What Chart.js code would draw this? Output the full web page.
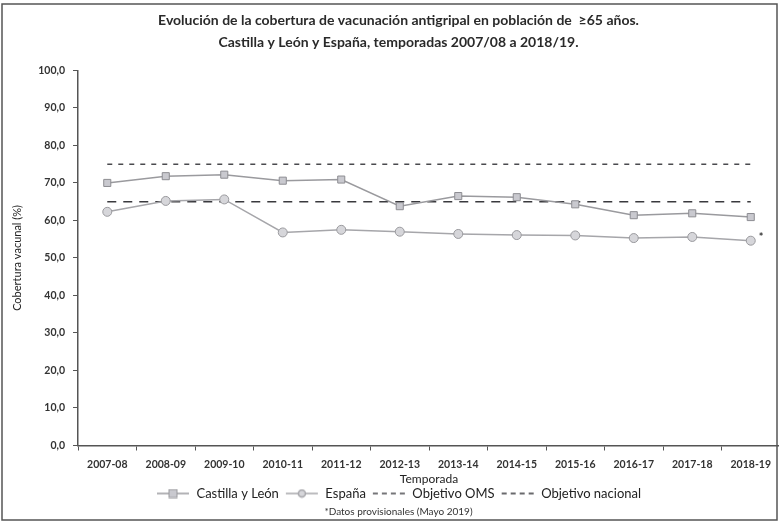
<!DOCTYPE html>
<html>
<head>
<meta charset="utf-8">
<script src="https://cdn.jsdelivr.net/npm/chart.js@4"></script>
<style>
    html, body { margin: 0; padding: 0; background: #fff; overflow: hidden; }
    #wrap { width: 786px; height: 523px; position: relative; }
</style>
</head>
<body>
<div id="wrap"><canvas id="coberturaChart"></canvas></div>
<script>
// Temporadas y coberturas (%)
const temporadas = ['2007-08', '2008-09', '2009-10', '2010-11', '2011-12', '2012-13',
    '2013-14', '2014-15', '2015-16', '2016-17', '2017-18', '2018-19'];
const castillaLeon = [70.0, 71.8, 72.2, 70.6, 70.9, 63.8, 66.5, 66.2, 64.3, 61.4, 61.9, 60.9];
const espana = [62.3, 65.2, 65.6, 56.8, 57.5, 57.0, 56.4, 56.1, 56.0, 55.3, 55.6, 54.6];
const objetivoOMS = temporadas.map(() => 75);
const objetivoNacional = temporadas.map(() => 65);

const FONT = 'Lato, "Open Sans", sans-serif';

// small legend icons: line with the series marker on top
function legendIcon(color, dash, marker, fill) {
    const c = document.createElement('canvas');
    c.width = 34; c.height = 10;
    const g = c.getContext('2d');
    g.strokeStyle = color;
    g.lineWidth = 1.5;
    g.setLineDash(dash);
    g.beginPath(); g.moveTo(1, 5); g.lineTo(33, 5); g.stroke();
    g.setLineDash([]);
    if (marker === 'rect') {
        g.fillStyle = fill; g.fillRect(13, 1, 8, 8);
        g.lineWidth = 1; g.strokeRect(13, 1, 8, 8);
    } else if (marker === 'circle') {
        g.fillStyle = fill; g.beginPath(); g.arc(17, 5, 3.5, 0, Math.PI * 2); g.fill(); g.stroke();
    }
    return c;
}

// "*" next to the provisional value and the outer frame
const extras = {
    id: 'extras',
    afterDatasetsDraw(chart) {
        const ctx = chart.ctx;
        const meta = chart.getDatasetMeta(1);
        const last = meta.data[meta.data.length - 1];
        ctx.save();
        ctx.fillStyle = '#333';
        ctx.font = 'bold 11px ' + FONT;
        ctx.textAlign = 'left';
        ctx.textBaseline = 'middle';
        ctx.fillText('*', last.x + 8, last.y - 3);
        ctx.restore();
    },
    afterDraw(chart) {
        const ctx = chart.ctx;
        ctx.save();
        ctx.strokeStyle = '#555';
        ctx.lineWidth = 1.5;
        ctx.strokeRect(2, 4, 775, 516);
        ctx.restore();
    }
};

const ctx = document.getElementById('coberturaChart');

new Chart(ctx, {
    type: 'line',
    data: {
        labels: temporadas,
        datasets: [
            {
                label: 'Castilla y León',
                data: castillaLeon,
                borderColor: '#9a9a9e',
                borderWidth: 1.5,
                pointStyle: 'rect',
                pointRadius: 5,
                pointBackgroundColor: '#c9c9cf',
                pointBorderColor: '#8d8d92',
                pointBorderWidth: 1,
                tension: 0,
                legendIcon: legendIcon('#9a9a9e', [], 'rect', '#c9c9cf')
            },
            {
                label: 'España',
                data: espana,
                borderColor: '#a6a6aa',
                borderWidth: 1.5,
                pointStyle: 'circle',
                pointRadius: 4.5,
                pointBackgroundColor: '#d6d6da',
                pointBorderColor: '#9a9a9e',
                pointBorderWidth: 1,
                tension: 0,
                legendIcon: legendIcon('#a6a6aa', [], 'circle', '#d6d6da')
            },
            {
                label: 'Objetivo OMS',
                data: objetivoOMS,
                borderColor: '#4a4a4e',
                borderWidth: 1.5,
                borderDash: [5, 6],
                pointRadius: 0,
                legendIcon: legendIcon('#4a4a4e', [5, 4], null)
            },
            {
                label: 'Objetivo nacional',
                data: objetivoNacional,
                borderColor: '#3a3a3e',
                borderWidth: 1.5,
                borderDash: [9, 7],
                pointRadius: 0,
                legendIcon: legendIcon('#3a3a3e', [5, 4], null)
            }
        ]
    },
    options: {
        responsive: true,
        maintainAspectRatio: false,
        animation: false,
        layout: { padding: { left: 11, right: 0, top: 6, bottom: 6 } },
        plugins: {
            title: {
                display: true,
                text: ['Evolución de la cobertura de vacunación antigripal en población de  ≥65 años.',
                       'Castilla y León y España, temporadas 2007/08 a 2018/19.'],
                color: '#2a2a2a',
                font: { family: FONT, size: 14, weight: 'bold', lineHeight: 1.55 },
                padding: { top: 4, bottom: 17 }
            },
            subtitle: {
                display: true,
                position: 'bottom',
                text: '*Datos provisionales (Mayo 2019)',
                color: '#333',
                font: { family: FONT, size: 10, lineHeight: 1.1 },
                padding: { top: -4, bottom: 0 }
            },
            legend: {
                position: 'bottom',
                labels: {
                    color: '#222',
                    font: { family: FONT, size: 13, lineHeight: 1.0 },
                    usePointStyle: true,
                    pointStyleWidth: 34,
                    padding: 6,
                    generateLabels(chart) {
                        return chart.data.datasets.map((ds, i) => ({
                            text: ds.label,
                            pointStyle: ds.legendIcon,
                            fontColor: '#222',
                            datasetIndex: i,
                            hidden: false,
                            lineWidth: 0
                        }));
                    }
                }
            },
            tooltip: { enabled: false }
        },
        scales: {
            y: {
                min: 0,
                max: 100,
                ticks: {
                    stepSize: 10,
                    color: '#333',
                    font: { family: FONT, size: 10.5, weight: 'bold' },
                    padding: 8,
                    callback: function(value) { return value.toFixed(1).replace('.', ','); }
                },
                grid: { drawOnChartArea: false, drawTicks: true, tickLength: 5, color: '#555' },
                border: { color: '#555', width: 1.5 },
                title: {
                    display: true,
                    text: 'Cobertura vacunal (%)',
                    color: '#222',
                    font: { family: FONT, size: 11 },
                    padding: { top: 0, bottom: 6 }
                }
            },
            x: {
                offset: true,
                ticks: {
                    color: '#333',
                    font: { family: FONT, size: 10.5, weight: 'bold', lineHeight: 1.0 },
                    maxRotation: 0,
                    autoSkip: false,
                    padding: 9
                },
                grid: { drawOnChartArea: false, drawTicks: true, tickLength: 5, color: '#555', offset: true },
                border: { color: '#555', width: 1.5 },
                title: {
                    display: true,
                    text: 'Temporada',
                    color: '#222',
                    font: { family: FONT, size: 12, lineHeight: 1.0 },
                    padding: { top: -6, bottom: -4 }
                }
            }
        }
    },
    plugins: [extras]
});
</script>
</body>
</html>
